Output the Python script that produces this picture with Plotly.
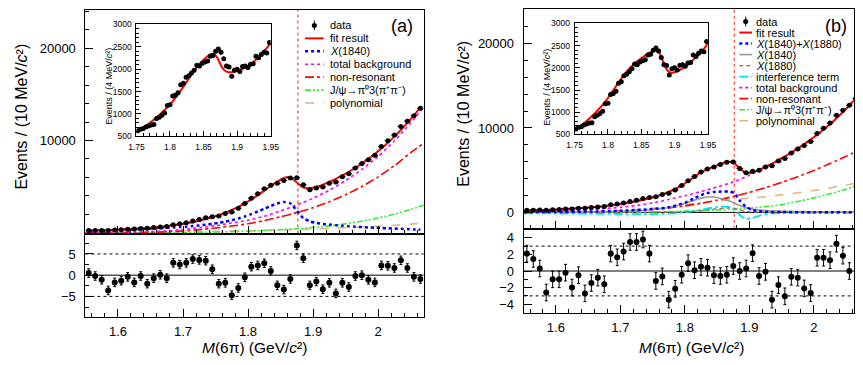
import plotly.graph_objects as go

# ---------------- data ----------------
THRESHOLD = 1.8766

M10 = [1.555, 1.565, 1.575, 1.585, 1.595, 1.605, 1.615, 1.625, 1.635, 1.645,
       1.655, 1.665, 1.675, 1.685, 1.695, 1.705, 1.715, 1.725, 1.735, 1.745,
       1.755, 1.765, 1.775, 1.785, 1.795, 1.805, 1.815, 1.825, 1.835, 1.845,
       1.855, 1.865, 1.875, 1.885, 1.895, 1.905, 1.915, 1.925, 1.935, 1.945,
       1.955, 1.965, 1.975, 1.985, 1.995, 2.005, 2.015, 2.025, 2.035, 2.045,
       2.055, 2.065]

DATA = [256, 267, 273, 251, 309, 350, 404, 416, 491, 494,
        573, 653, 706, 893, 980, 1113, 1290, 1451, 1632, 1758,
        1842, 2106, 2255, 2661, 3172, 3750, 4237, 4770, 5151, 5371,
        5678, 5950, 5977, 5200, 4683, 4874, 4982, 5386, 5521, 6078,
        6392, 7033, 7510, 7912, 8393, 9350, 9967, 10593, 11509, 12095,
        12685, 13495]

FIT_A = [248, 270, 292, 315, 340, 375, 412, 452, 495, 540,
         590, 650, 725, 810, 905, 1020, 1160, 1320, 1500, 1700,
         1930, 2190, 2490, 2820, 3200, 3630, 4090, 4580, 5080, 5550,
         5940, 6020, 5460, 4920, 4850, 4980, 5220, 5520, 5850, 6220,
         6620, 7050, 7510, 8010, 8550, 9130, 9750, 10420, 11140, 11910,
         12730, 13600]

FIT_B = [222, 243, 268, 292, 327, 369, 408, 457, 502, 554,
         608, 673, 749, 830, 928, 1035, 1164, 1318, 1478, 1670,
         1893, 2136, 2419, 2772, 3197, 3692, 4230, 4735, 5122, 5408,
         5723, 5985, 5931, 5200, 4662, 4724, 5024, 5393, 5777, 6211,
         6636, 7092, 7579, 8099, 8636, 9195, 9807, 10459, 11155, 11892,
         12685, 13495]

X1840_A = [220, 240, 260, 280, 300, 330, 360, 390, 420, 450,
           480, 510, 550, 590, 630, 680, 740, 810, 890, 980,
           1090, 1220, 1380, 1560, 1780, 2040, 2320, 2620, 2920, 3180,
           3350, 3200, 2400, 1600, 1250, 1080, 970, 900, 830, 770,
           720, 670, 630, 590, 560, 530, 500, 470, 440, 410,
           380, 350]

RES_A = [0.5, -0.2, -1.1, -3.6, -1.7, -1.3, -0.4, -1.7, -0.2, -2.0,
         -0.7, 0.1, -0.7, 2.9, 2.5, 2.9, 3.8, 3.6, 3.4, 1.4,
         -2.0, -1.8, -4.7, -3.0, -0.5, 2.0, 2.3, 2.8, 1.0, -2.4,
         -3.4, -0.9, 7.0, 4.0, -2.4, -1.5, -3.3, -1.8, -4.3, -1.8,
         -2.8, -0.2, 0.0, -1.1, -1.7, 2.3, 2.2, 1.7, 3.5, 1.7,
         -0.4, -0.9]

M10_B = M10[:51]
RES_B = [2.1, 1.45, 0.3, -2.6, -1.0, -1.0, -0.2, -2.0, -0.5, -2.7,
         -1.45, -0.8, -1.6, 2.1, 1.65, 2.35, 3.5, 3.5, 3.8, 2.1,
         -1.2, -0.65, -3.45, -2.15, -0.45, 0.95, 0.1, 0.5, 0.4, -0.5,
         -0.6, -0.45, 0.6, 0.0, 0.3, 2.15, -0.6, -0.1, -3.45, -1.7,
         -3.05, -0.7, -0.8, -2.1, -2.65, 1.6, 1.6, 1.3, 3.3, 1.85,
         0.0]

G = [1.55, 1.575, 1.60, 1.625, 1.65, 1.675, 1.70, 1.725, 1.75, 1.775, 1.80,
     1.825, 1.85, 1.875, 1.90, 1.925, 1.95, 1.975, 2.00, 2.025, 2.05, 2.07]

BG_A = [30, 40, 65, 95, 135, 220, 370, 560, 780, 1080, 1380,
        1800, 2380, 3030, 3750, 4620, 5670, 6880, 8290, 9950, 11900, 13600]
NONRES_A = [10, 15, 22, 35, 60, 120, 220, 350, 530, 740, 990,
            1330, 1740, 2200, 2730, 3370, 4130, 5020, 6060, 7280, 8690, 9700]
JPSI_A = [0, 1, 3, 5, 10, 19, 33, 56, 90, 136, 195,
          266, 350, 455, 590, 765, 990, 1270, 1610, 2020, 2550, 3000]
POLY_A = [20, 30, 40, 55, 70, 90, 110, 135, 160, 195, 230,
          275, 320, 375, 430, 495, 560, 640, 720, 830, 950, 1100]

BG_B = [140, 180, 218, 265, 335, 450, 600, 820, 1120, 1530, 1970,
        2460, 3000, 3610, 4400, 5290, 6360, 7530, 8860, 10400, 12230, 13850]
NONRES_B = [15, 21, 31, 47, 70, 103, 150, 230, 350, 530, 770,
            1080, 1450, 1880, 2370, 2930, 3550, 4230, 4970, 5780, 6650, 7380]
JPSI_B = [0, 1, 2, 4, 7, 12, 21, 37, 60, 98, 147,
          208, 282, 368, 500, 680, 925, 1300, 1720, 2200, 2750, 3250]
POLY_B = [0, 5, 20, 40, 70, 130, 220, 340, 480, 660, 900,
          1120, 1330, 1500, 1680, 1870, 2080, 2320, 2600, 2900, 3250, 3500]

SX = [1.55, 1.60, 1.65, 1.70, 1.75, 1.775, 1.80, 1.815, 1.83, 1.845,
      1.86, 1.87, 1.877, 1.885, 1.895, 1.905, 1.92, 1.95, 2.00, 2.07]
SIG_B = [30, 48, 95, 190, 400, 600, 1150, 1700, 2200, 2420,
         2480, 2450, 2250, 1400, 650, 280, 100, 40, 25, 15]
X1840_B = [20, 33, 62, 130, 350, 580, 1050, 1450, 1780, 1830,
           1560, 1330, 1100, 820, 560, 390, 240, 140, 80, 52]
X1880_B = [0, 2, 5, 10, 20, 30, 60, 120, 220, 380,
           500, 520, 480, 280, 120, 50, 20, 8, 3, 1]

CX = [1.55, 1.60, 1.65, 1.70, 1.75, 1.775, 1.80, 1.82, 1.84, 1.855,
      1.865, 1.875, 1.885, 1.895, 1.905, 1.915, 1.93, 1.95, 2.00, 2.07]
INTF_B = [-100, -130, -160, -190, -200, -150, 20, 250, 520, 680,
          680, 450, -300, -780, -650, -400, -150, -70, -50, -40]

M4 = [1.752, 1.756, 1.760, 1.764, 1.768, 1.772, 1.776, 1.780, 1.784, 1.788,
      1.792, 1.796, 1.800, 1.804, 1.808, 1.812, 1.816, 1.820, 1.824, 1.828,
      1.832, 1.836, 1.840, 1.844, 1.848, 1.852, 1.856, 1.860, 1.864, 1.868,
      1.872, 1.876, 1.880, 1.884, 1.888, 1.892, 1.896, 1.900, 1.904, 1.908,
      1.912, 1.916, 1.920, 1.924, 1.928, 1.932, 1.936, 1.940, 1.944, 1.948]
INSET_DATA = [623, 660, 674, 710, 732, 754, 761, 899, 928, 971,
              1022, 1188, 1203, 1399, 1420, 1471, 1652, 1688, 1819, 1855,
              1913, 1978, 2087, 2072, 2130, 2159, 2181, 2290, 2304, 2399,
              2449, 2377, 2232, 2072, 2051, 1841, 1978, 2000, 1949, 2058,
              2072, 2036, 2109, 2123, 2290, 2254, 2326, 2377, 2362, 2594]

M5 = [1.750, 1.755, 1.760, 1.765, 1.770, 1.775, 1.780, 1.785, 1.790, 1.795,
      1.800, 1.805, 1.810, 1.815, 1.820, 1.825, 1.830, 1.835, 1.840, 1.845,
      1.850, 1.855, 1.860, 1.865, 1.870, 1.875, 1.880, 1.885, 1.890, 1.895,
      1.900, 1.905, 1.910, 1.915, 1.920, 1.925, 1.930, 1.935, 1.940, 1.945,
      1.950]
INSET_FIT_A = [600, 640, 690, 740, 800, 860, 920, 990, 1060, 1130,
               1210, 1300, 1400, 1500, 1610, 1720, 1830, 1940, 2040, 2130,
               2210, 2280, 2330, 2340, 2270, 2110, 1990, 1940, 1930, 1940,
               1960, 1990, 2020, 2060, 2110, 2170, 2240, 2320, 2400, 2490,
               2580]
INSET_FIT_B = [610, 650, 700, 760, 830, 900, 970, 1050, 1130, 1220,
               1320, 1430, 1540, 1650, 1760, 1860, 1950, 2030, 2100, 2160,
               2220, 2270, 2320, 2360, 2390, 2380, 2250, 2050, 1930, 1890,
               1900, 1930, 1970, 2020, 2080, 2140, 2210, 2280, 2360, 2450,
               2550]

LEG_A = ["data", "fit result", "<i>X</i>(1840)", "total background", "non-resonant",
         "J/ψ→π⁰3(π⁺π⁻)", "polynomial"]
LEG_B = ["data", "fit result", "<i>X</i>(1840)+<i>X</i>(1880)", "<i>X</i>(1840)",
         "<i>X</i>(1880)", "interference term", "total background", "non-resonant",
         "J/ψ→π⁰3(π⁺π⁻)", "polynominal"]

# ---------------- styles ----------------
W, H = 863, 365
FONT = "Liberation Sans, Arial, sans-serif"
RED = "#ff0000"
BLUE = "#0000ff"
MAG = "#ff00ff"
GREEN = "#33ee33"
TAN = "#deb887"
GREY = "#999999"
BROWN = "#8b6f5a"
CYAN = "#00e5ee"
DASHDOTDOT = "6px,2px,2px,2px,2px,2px"

STY = {
    "fit": dict(color=RED, dash="solid", width=2),
    "x1840a": dict(color=BLUE, dash="dot", width=2.5),
    "bg": dict(color=MAG, dash="dot", width=1.6),
    "nonres": dict(color=RED, dash="dashdot", width=1.6),
    "jpsi": dict(color=GREEN, dash=DASHDOTDOT, width=1.6),
    "poly": dict(color=TAN, dash="dash", width=1.6),
    "sig": dict(color=BLUE, dash="dot", width=2.5),
    "x1840b": dict(color=GREY, dash="solid", width=1.6),
    "x1880b": dict(color=BROWN, dash="4px,3px", width=1.2),
    "intf": dict(color=CYAN, dash="dashdot", width=1.8),
}


def px(x):
    return x / W


def py(y):
    return 1 - y / H


fig = go.Figure()


def curve(x, y, xa, ya, key):
    s = STY[key]
    fig.add_trace(go.Scatter(x=x, y=y, xaxis=xa, yaxis=ya, mode="lines",
                             line=dict(color=s["color"], dash=s["dash"], width=s["width"],
                                       shape="spline", smoothing=0.6),
                             hoverinfo="skip", showlegend=False))


def points(x, y, xa, ya, err, size, xerr=None):
    fig.add_trace(go.Scatter(x=x, y=y, xaxis=xa, yaxis=ya, mode="markers",
                             marker=dict(color="black", size=size),
                             error_y=err, error_x=xerr,
                             hoverinfo="skip", showlegend=False))


# ---- panel (a) main ----
curve(G, POLY_A, "x", "y", "poly")
curve(G, JPSI_A, "x", "y", "jpsi")
curve(G, NONRES_A, "x", "y", "nonres")
curve(G, BG_A, "x", "y", "bg")
curve(M10, X1840_A, "x", "y", "x1840a")
curve(M10, FIT_A, "x", "y", "fit")
points(M10, DATA, "x", "y", dict(type="sqrt", width=0, thickness=1, color="black"), 5,
       dict(type="constant", value=0.005, width=0, thickness=1, color="black"))
# ---- panel (a) residual ----
points(M10, RES_A, "x2", "y2", dict(type="constant", value=1, width=1.5, thickness=1, color="black"), 6)
# ---- panel (a) inset ----
curve(M5, INSET_FIT_A, "x3", "y3", "fit")
points(M4, INSET_DATA, "x3", "y3", dict(type="sqrt", width=0, thickness=1, color="black"), 5)

# ---- panel (b) main ----
curve(G, POLY_B, "x4", "y4", "poly")
curve(G, JPSI_B, "x4", "y4", "jpsi")
curve(G, NONRES_B, "x4", "y4", "nonres")
curve(G, BG_B, "x4", "y4", "bg")
curve(CX, INTF_B, "x4", "y4", "intf")
curve(SX, X1880_B, "x4", "y4", "x1880b")
curve(SX, X1840_B, "x4", "y4", "x1840b")
curve(SX, SIG_B, "x4", "y4", "sig")
curve(M10, FIT_B, "x4", "y4", "fit")
points(M10, DATA, "x4", "y4", dict(type="sqrt", width=0, thickness=1, color="black"), 5,
       dict(type="constant", value=0.005, width=0, thickness=1, color="black"))
# ---- panel (b) residual ----
points(M10_B, RES_B, "x5", "y5", dict(type="constant", value=1, width=1.5, thickness=1, color="black"), 6)
# ---- panel (b) inset ----
curve(M5, INSET_FIT_B, "x6", "y6", "fit")
points(M4, INSET_DATA, "x6", "y6", dict(type="sqrt", width=0, thickness=1, color="black"), 5)

# ---------------- axes ----------------
def ax(domain, rng, anchor, size=13, standoff=4, **kw):
    d = dict(domain=domain, range=rng, anchor=anchor, showline=True, linecolor="black",
             linewidth=1, mirror=True, ticks="inside", tickcolor="black", ticklen=8,
             showgrid=False, zeroline=False, ticklabelstandoff=standoff,
             tickfont=dict(family=FONT, size=size, color="black"))
    d.update(kw)
    return d


def minor(dt, t0=0, ln=4):
    return dict(ticks="inside", ticklen=ln, tickcolor="black", tickmode="linear", dtick=dt, tick0=t0)


A_X = [79 / W, 424 / W]
B_X = [526 / W, 1.0]
XR_A = [1.55, 2.07]
XR_B = [1.55, 2.0622]

fig.update_layout(
    width=W, height=H, margin=dict(l=0, r=0, t=0, b=0),
    paper_bgcolor="white", plot_bgcolor="white", showlegend=False,
    font=dict(family=FONT, color="black"),
    xaxis=ax(A_X, XR_A, "y", showticklabels=False, tickmode="linear", tick0=1.5, dtick=0.1,
             minor=minor(0.02, 1.5)),
    yaxis=ax([py(235), py(5)], [-70, 24140], "x", standoff=6, tickformat="d",
             tickmode="array", tickvals=[10000, 20000], minor=minor(2000)),
    xaxis2=ax(A_X, XR_A, "y2", standoff=2, tickmode="linear", tick0=1.5, dtick=0.1,
              minor=minor(0.02, 1.5)),
    yaxis2=ax([py(321), py(235)], [-9.9, 9.8], "x2", standoff=6,
              tickmode="array", tickvals=[-5, 0, 5], minor=minor(2.5)),
    xaxis3=ax([131 / W, 268 / W], [1.75, 1.95], "y3", size=8.5, standoff=2, ticklen=5,
              tickmode="linear", tick0=1.75, dtick=0.05, minor=minor(0.01, 1.75, 3)),
    yaxis3=ax([py(135), py(20)], [500, 3000], "x3", size=8.5, standoff=2, ticklen=5,
              tickmode="linear", tick0=500, dtick=500, minor=minor(100, 0, 3)),
    xaxis4=ax(B_X, XR_B, "y4", showticklabels=False, tickmode="linear", tick0=1.5, dtick=0.1,
              minor=minor(0.02, 1.5)),
    yaxis4=ax([py(230), py(4)], [-1930, 24100], "x4", standoff=6, tickformat="d",
              tickmode="array", tickvals=[0, 10000, 20000], minor=minor(2000)),
    xaxis5=ax(B_X, XR_B, "y5", standoff=2, tickmode="linear", tick0=1.5, dtick=0.1,
              minor=minor(0.02, 1.5)),
    yaxis5=ax([py(317), py(230)], [-5.1, 5.1], "x5", standoff=6,
              tickmode="array", tickvals=[-4, -2, 0, 2, 4], minor=minor(1, 0, 4)),
    xaxis6=ax([578 / W, 714 / W], [1.75, 1.95], "y6", size=8.5, standoff=2, ticklen=5,
              tickmode="linear", tick0=1.75, dtick=0.05, minor=minor(0.01, 1.75, 3)),
    yaxis6=ax([py(133), py(19)], [500, 3000], "x6", size=8.5, standoff=2, ticklen=5,
              tickmode="linear", tick0=500, dtick=500, minor=minor(100, 0, 3)),
)

# ---------------- reference lines ----------------
for xa, ya in [("x", "y"), ("x3", "y3"), ("x4", "y4"), ("x6", "y6")]:
    fig.add_shape(type="line", xref=xa, yref=ya + " domain", x0=THRESHOLD, x1=THRESHOLD,
                  y0=0, y1=1, line=dict(color="#ff4040", dash="dot", width=1.2), layer="below")

for xa, ya, lv in [("x2", "y2", 5), ("x5", "y5", 3)]:
    fig.add_shape(type="line", xref=xa + " domain", yref=ya, x0=0, x1=1, y0=0, y1=0,
                  line=dict(color="black", width=1), layer="below")
    for v in (lv, -lv):
        fig.add_shape(type="line", xref=xa + " domain", yref=ya, x0=0, x1=1, y0=v, y1=v,
                      line=dict(color="black", width=1, dash="3px,3px"), layer="below")

fig.add_shape(type="line", xref="x4 domain", yref="y4", x0=0, x1=1, y0=0, y1=0,
              line=dict(color="black", width=1), layer="below")

# ---------------- legends ----------------
def legend(entries, keys, x0, x1, xt, y_first, step, size=11):
    for i, (txt, key) in enumerate(zip(entries, keys)):
        yc = y_first + i * step
        if key == "data":
            xc = (x0 + x1) / 2
            fig.add_shape(type="line", xref="paper", yref="paper", x0=px(xc), x1=px(xc),
                          y0=py(yc - 5), y1=py(yc + 5), line=dict(color="black", width=1))
            fig.add_shape(type="circle", xref="paper", yref="paper",
                          x0=px(xc - 2.6), x1=px(xc + 2.6), y0=py(yc + 2.6), y1=py(yc - 2.6),
                          fillcolor="black", line=dict(color="black", width=0))
        else:
            s = STY[key]
            fig.add_shape(type="line", xref="paper", yref="paper", x0=px(x0), x1=px(x1),
                          y0=py(yc), y1=py(yc),
                          line=dict(color=s["color"], dash=s["dash"], width=s["width"]))
        fig.add_annotation(x=px(xt), y=py(yc), xref="paper", yref="paper", text=txt,
                           showarrow=False, xanchor="left", yanchor="middle",
                           font=dict(family=FONT, size=size, color="black"))


legend(LEG_A, ["data", "fit", "x1840a", "bg", "nonres", "jpsi", "poly"],
       303, 322, 326, 21, 13.3)
legend(LEG_B, ["data", "fit", "sig", "x1840b", "x1880b", "intf", "bg", "nonres", "jpsi", "poly"],
       746, 759, 761, 17, 11.33)

# ---------------- titles and labels ----------------
def note(x, y, text, size, angle=0, anchor="center"):
    fig.add_annotation(x=px(x), y=py(y), xref="paper", yref="paper", text=text,
                       showarrow=False, textangle=angle, xanchor=anchor, yanchor="middle",
                       borderpad=0, font=dict(family=FONT, size=size, color="black"))


YT = "Events / (10 MeV/<i>c</i>²)"
XT = "<i>M</i>(6π) (GeV/<i>c</i>²)"
IT = "Events / (4 MeV/<i>c</i>²)"
note(14, 115, YT, 16, -90)
note(465, 112, YT, 16, -90)
note(251, 352, XT, 15.5)
note(697, 352, XT, 15.5)
note(103, 83, IT, 9, -90)
note(549, 85, IT, 9, -90)
note(402, 22, "(a)", 18)
note(845, 22, "(b)", 18)

fig.write_html("out.html")
